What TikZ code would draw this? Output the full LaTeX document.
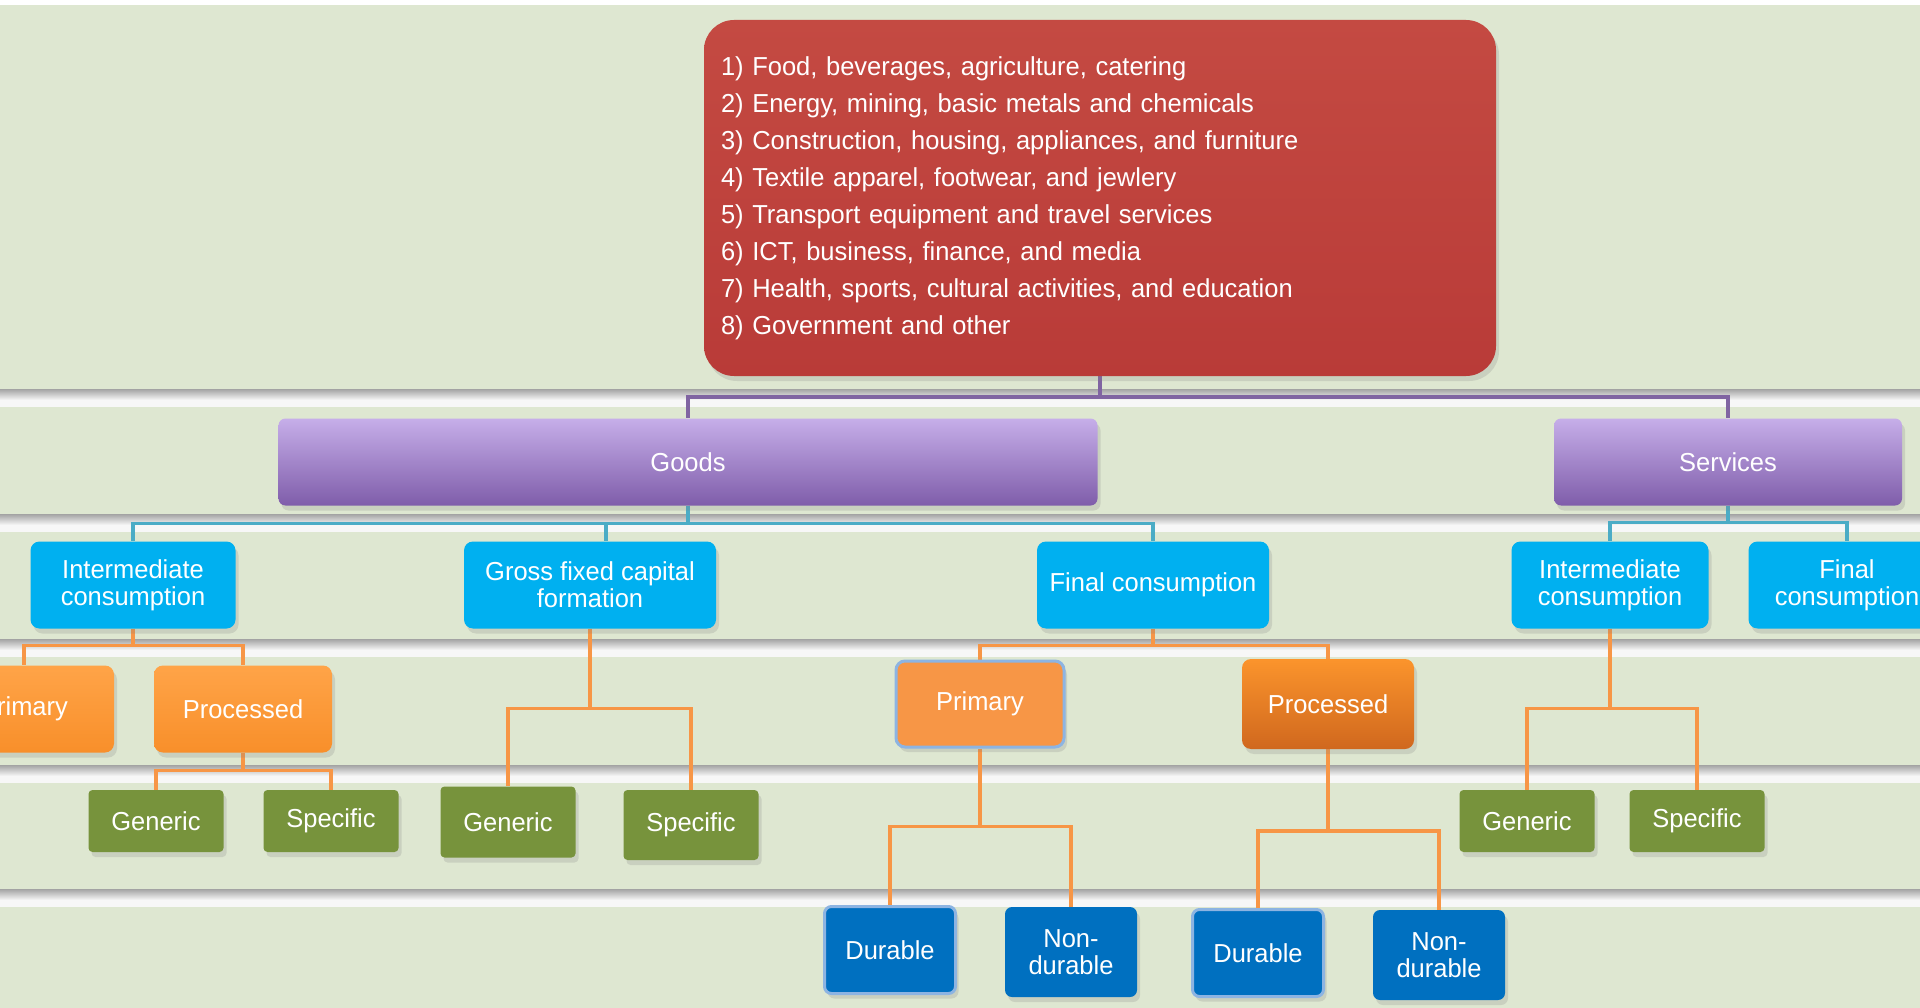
\documentclass[tikz,border=0pt]{standalone}
\usepackage{fontspec}
\setmainfont[FakeStretch=0.98]{Liberation Sans}
\usetikzlibrary{shadows}

\definecolor{sage}{RGB}{222,231,209}
\definecolor{sectorred}{RGB}{185,59,56}
\definecolor{sectorredtop}{RGB}{196,74,66}
\definecolor{lilactop}{RGB}{198,174,233}
\definecolor{lilacbot}{RGB}{127,93,170}
\definecolor{cyanbox}{RGB}{0,176,240}
\definecolor{orangetop}{RGB}{255,164,72}
\definecolor{orangebot}{RGB}{248,143,42}
\definecolor{orangeflat}{RGB}{247,150,70}
\definecolor{burnttop}{RGB}{251,148,44}
\definecolor{burntbot}{RGB}{208,104,30}
\definecolor{olive}{RGB}{119,147,60}
\definecolor{navy}{RGB}{0,112,192}
\definecolor{paleblue}{RGB}{141,180,226}
\definecolor{purpleline}{RGB}{128,100,162}
\definecolor{tealline}{RGB}{75,172,198}
\definecolor{orangeline}{RGB}{247,150,70}

\pgfdeclarelayer{back}
\pgfdeclarelayer{wires}
\pgfsetlayers{back,wires,main}

\begin{document}
\begin{tikzpicture}
[
x=1pt, y=-1pt,
every node/.style={text=white, align=center, inner sep=0pt, font=\fontsize{26}{27}\selectfont},
boxshadow/.style={drop shadow={shadow xshift=3pt, shadow yshift=-5pt, opacity=0.22}},
redbox/.style={boxshadow, rounded corners=30pt, top color=sectorredtop, bottom color=sectorred, minimum width=792pt, minimum height=356pt, text width=758pt, align=left, font=\fontsize{26}{37}\selectfont},
goodsbox/.style={boxshadow, rounded corners=7pt, top color=lilactop, bottom color=lilacbot, minimum height=87pt},
bluebox/.style={boxshadow, rounded corners=9pt, fill=cyanbox, minimum height=87pt},
orangebox/.style={boxshadow, rounded corners=9pt, top color=orangetop, bottom color=orangebot, minimum height=87pt},
primbox/.style={boxshadow, rounded corners=9pt, fill=orangeflat, draw=paleblue, line width=3pt, minimum width=168pt, minimum height=86pt},
procbox/.style={boxshadow, rounded corners=9pt, top color=burnttop, bottom color=burntbot, minimum width=172pt, minimum height=90pt},
greenbox/.style={boxshadow, rounded corners=4pt, fill=olive, minimum width=135pt, minimum height=62pt},
navybox/.style={boxshadow, rounded corners=7pt, fill=navy, minimum width=132pt, minimum height=90pt},
durbox/.style={navybox, draw=paleblue, line width=3pt, minimum width=131pt, minimum height=87pt},
wire/.style={line width=3.5pt}
]
\path[use as bounding box] (0,0) rectangle (1920,1008);
\clip (0,0) rectangle (1920,1008);

%Nodes
\node[redbox]		(sectors) at(1100,198) {1) Food, beverages, agriculture, catering\\2) Energy, mining, basic metals and chemicals\\3) Construction, housing, appliances, and furniture\\4) Textile apparel, footwear, and jewlery\\5) Transport equipment and travel services\\6) ICT, business, finance, and media\\7) Health, sports, cultural activities, and education\\8) Government and other};

\node[goodsbox, minimum width=819pt]		(goods) at(688,462) {Goods};
\node[goodsbox, minimum width=348pt]		(services) at(1728,462) {Services};

\node[bluebox, minimum width=205pt]		(gic) at(133,585) {Intermediate\\consumption};
\node[bluebox, minimum width=252pt]		(gfcf) at(590,585) {Gross fixed capital\\formation};
\node[bluebox, minimum width=232pt]		(gfc) at(1153,585) {Final consumption};
\node[bluebox, minimum width=197pt]		(sic) at(1610,585) {Intermediate\\consumption};
\node[bluebox, minimum width=197pt]		(sfc) at(1847,585) {Final\\consumption};

\node[orangebox, minimum width=180pt]		(gicprim) at(24,709) {Primary};
\node[orangebox, minimum width=178pt]		(gicproc) at(243,709) {Processed};
\node[primbox]		(gfcprim) at(980,704) {Primary};
\node[procbox]		(gfcproc) at(1328,704) {Processed};

\node[greenbox]		(gen1) at(156,821) {Generic};
\node[greenbox]		(spec1) at(331,821) {Specific};
\node[greenbox, minimum height=71pt]		(gen2) at(508,822) {Generic};
\node[greenbox, minimum height=70pt]		(spec2) at(691,825) {Specific};
\node[greenbox]		(gen3) at(1527,821) {Generic};
\node[greenbox]		(spec3) at(1697,821) {Specific};

\node[durbox]		(dur1) at(890,950) {Durable};
\node[navybox]		(ndur1) at(1071,952) {Non-\\durable};
\node[durbox]		(dur2) at(1258,953) {Durable};
\node[navybox]		(ndur2) at(1439,955) {Non-\\durable};

%Background and bands
\begin{pgfonlayer}{back}
\fill[sage] (0,0) rectangle (1920,1008);
\fill[white] (0,0) rectangle (1920,5);
\shade[top color=black!36, bottom color=white] (0,389) rectangle (1920,401);
\fill[white!94!gray] (0,401) rectangle (1920,407);
\shade[top color=black!36, bottom color=white] (0,514) rectangle (1920,526);
\fill[white!94!gray] (0,526) rectangle (1920,532);
\shade[top color=black!36, bottom color=white] (0,639) rectangle (1920,651);
\fill[white!94!gray] (0,651) rectangle (1920,657);
\shade[top color=black!36, bottom color=white] (0,765) rectangle (1920,777);
\fill[white!94!gray] (0,777) rectangle (1920,783);
\shade[top color=black!36, bottom color=white] (0,889) rectangle (1920,901);
\fill[white!94!gray] (0,901) rectangle (1920,907);
\end{pgfonlayer}

%Connectors
\begin{pgfonlayer}{wires}
\draw[wire, purpleline] (sectors.south) -- ++(0,21) -| (goods.north);
\draw[wire, purpleline] (sectors.south) -- ++(0,21) -| (services.north);

\draw[wire, tealline] (goods.south) -- ++(0,18) -| (gic.north);
\draw[wire, tealline] (goods.south) -- ++(0,18) -| ([xshift=16pt]gfcf.north);
\draw[wire, tealline] (goods.south) -- ++(0,18) -| (gfc.north);
\draw[wire, tealline] (services.south) -- ++(0,17) -| (sic.north);
\draw[wire, tealline] (services.south) -- ++(0,17) -| (sfc.north);

\draw[wire, orangeline] (gic.south) -- ++(0,17) -| (gicprim.north);
\draw[wire, orangeline] (gic.south) -- ++(0,17) -| (gicproc.north);
\draw[wire, orangeline] (gicproc.south) -- ++(0,18) -| (gen1.north);
\draw[wire, orangeline] (gicproc.south) -- ++(0,18) -| (spec1.north);
\draw[wire, orangeline] (gfcf.south) -- ++(0,80) -| (gen2.north);
\draw[wire, orangeline] (gfcf.south) -- ++(0,80) -| (spec2.north);
\draw[wire, orangeline] (gfc.south) -- ++(0,17) -| (gfcprim.north);
\draw[wire, orangeline] (gfc.south) -- ++(0,17) -| (gfcproc.north);
\draw[wire, orangeline] (gfcprim.south) -- ++(0,78) -| (dur1.north);
\draw[wire, orangeline] (gfcprim.south) -- ++(0,78) -| (ndur1.north);
\draw[wire, orangeline] (gfcproc.south) -- ++(0,82) -| (dur2.north);
\draw[wire, orangeline] (gfcproc.south) -- ++(0,82) -| (ndur2.north);
\draw[wire, orangeline] (sic.south) -- ++(0,80) -| (gen3.north);
\draw[wire, orangeline] (sic.south) -- ++(0,80) -| (spec3.north);
\end{pgfonlayer}

\end{tikzpicture}
\end{document}
